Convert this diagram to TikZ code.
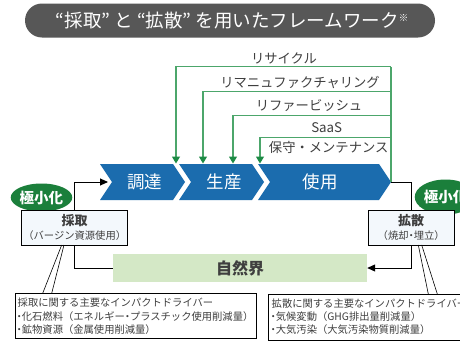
\documentclass[tikz,border=0pt]{standalone}
\usepackage{fontspec}
\setmainfont{Noto Sans CJK JP}
\usetikzlibrary{arrows.meta,shapes.geometric}
\definecolor{titlegray}{HTML}{575757}
\definecolor{chevblue}{HTML}{1B6CAE}
\definecolor{gline}{HTML}{4CA66B}
\definecolor{garrow}{HTML}{1D8B45}
\definecolor{ellgreen}{HTML}{1B7F3B}
\definecolor{boxfill}{HTML}{F3F8FC}
\definecolor{natgreen}{HTML}{D4E8C6}
\definecolor{txtgray}{HTML}{3F3F3F}
\newcommand{\oq}{\makebox[0.7em][r]{“}}
\newcommand{\cq}{\makebox[0.7em][l]{”}}
\newcommand{\nd}{\makebox[0.5em][c]{・}}
\tikzset{
  chev/.style={fill=chevblue, draw=none},
  chevtext/.style={text=white, font=\fontsize{17.5}{19}\selectfont},
  glabel/.style={text=txtgray, font=\fontsize{13.3}{15}\selectfont, inner sep=0pt},
  greenline/.style={draw=gline, line width=1.1pt},
  greenarrow/.style={greenline, -{Triangle[width=8pt,length=7pt,color=garrow]}},
  blackline/.style={draw=black, line width=0.9pt},
  blackarrow/.style={blackline, -{Triangle[width=7pt,length=8pt]}},
  minell/.style={ellipse, fill=ellgreen, text=white, font=\bfseries\fontsize{14.5}{16}\selectfont, inner sep=0pt},
  srcbox/.style={draw=black, line width=0.7pt, fill=boxfill, inner sep=0pt},
  notebox/.style={draw=black, line width=0.7pt, fill=white, inner sep=0pt},
  notetext/.style={anchor=west, text=txtgray, font=\fontsize{10.3}{12}\selectfont, inner sep=0pt},
  callout/.style={draw=black, line width=0.6pt}
}
\begin{document}
\begin{tikzpicture}[x=1pt,y=-1pt]
\useasboundingbox (0,0) rectangle (460,348);
\clip (0,0) rectangle (460,348);
\fill[white] (0,0) rectangle (460,348);

% title
\node[fill=titlegray, rounded corners=17pt, minimum width=410pt, minimum height=34pt,
  text=white, font=\fontsize{18.5}{20}\selectfont, inner sep=0pt] (title) at (230,20.5)
  {\oq 採取\cq と\oq 拡散\cq を用いたフレームワーク\raisebox{0.55ex}{\fontsize{9.5}{10}\selectfont ※}};

% chevrons
\fill[chev] (100,164) -- (173,164) -- (185,182) -- (173,200) -- (100,200) -- (112,182) -- cycle;
\fill[chev] (179,164) -- (252,164) -- (264,182) -- (252,200) -- (179,200) -- (191,182) -- cycle;
\fill[chev] (258,164) -- (379,164) -- (391,182) -- (379,200) -- (258,200) -- (270,182) -- cycle;
\node[chevtext] (procure) at (144.5,182) {調達};
\node[chevtext] (produce) at (224,182) {生産};
\node[chevtext] (use) at (320,182) {使用};

\coordinate (tip3) at (391,182);
\coordinate (notch1) at (108,182);

% green loops
\coordinate (rv1) at (391,66.7);
\coordinate (rv2) at (391,91.7);
\coordinate (rv3) at (391,115.3);
\coordinate (rv4) at (391,137.7);
\coordinate (a1) at (176,163.5);
\coordinate (a2) at (203,163.5);
\coordinate (a3) at (233,163.5);
\coordinate (a4) at (260,163.5);
\draw[greenline] (tip3) -- (rv1);
\draw[greenarrow] (rv1) -| (a1);
\draw[greenarrow] (rv2) -| (a2);
\draw[greenarrow] (rv3) -| (a3);
\draw[greenarrow] (rv4) -| (a4);

\node[glabel] (recycle) at (284,58) {リサイクル};
\node[glabel] (reman) at (300,83) {リマニュファクチャリング};
\node[glabel] (refurb) at (309,106) {リファービッシュ};
\node[glabel] (saas) at (326.7,127.5) {SaaS};
\node[glabel] (maint) at (328.7,147.5) {保守・メンテナンス};

% minimize ellipses
\node[minell, minimum width=57pt, minimum height=28pt] (minL) at (41.5,197.5) {極小化};
\node[minell, minimum width=58pt, minimum height=35pt] (minR) at (445.5,197) {極小化};

% source / sink boxes
\node[srcbox, minimum width=106pt, minimum height=35pt] (extract) at (74.7,227.5) {};
\node[text=txtgray, font=\bfseries\fontsize{13}{14}\selectfont, inner sep=0pt] (extractT) at (74.7,220.5) {採取};
\node[text=txtgray, font=\fontsize{10.3}{12}\selectfont, inner sep=0pt] (extractS) at (74.7,235.5) {（バージン資源使用）};

\node[srcbox, minimum width=85.7pt, minimum height=35pt] (diffuse) at (411.2,227.5) {};
\node[text=txtgray, font=\bfseries\fontsize{13}{14}\selectfont, inner sep=0pt] (diffuseT) at (411.2,220.5) {拡散};
\node[text=txtgray, font=\fontsize{10.3}{12}\selectfont, inner sep=0pt] (diffuseS) at (411.2,235.5) {（焼却\nd 埋立）};

% nature
\node[fill=natgreen, minimum width=254pt, minimum height=28pt, inner sep=0pt,
  text=txtgray, font=\bfseries\fontsize{16}{18}\selectfont] (nature) at (240,268) {自然界};

% black connectors
\draw[blackarrow] (extract.north) |- (notch1);
\draw[blackline] (tip3) -| (diffuse.north);
\draw[blackarrow] (diffuse.south) |- (nature.east);
\draw[blackline] (extract.south) |- (nature.west);

% note boxes
\node[notebox, minimum width=240.3pt, minimum height=45pt] (noteL) at (135.85,315.8) {};
\node[notebox, minimum width=200pt, minimum height=46pt] (noteR) at (368.3,317) {};
\node[notetext] (nL1) at (17.5,303) {採取に関する主要なインパクトドライバー};
\node[notetext] (nL2) at (16.5,316.5) {\nd 化石燃料（エネルギー\nd プラスチック使用削減量）};
\node[notetext] (nL3) at (16.5,329.5) {\nd 鉱物資源（金属使用削減量）};
\node[notetext] (nR1) at (271.5,303.5) {拡散に関する主要なインパクトドライバー};
\node[notetext] (nR2) at (270.5,317) {\nd 気候変動（GHG排出量削減量）};
\node[notetext] (nR3) at (270.5,330) {\nd 大気汚染（大気汚染物質削減量）};

% callout wedges
\coordinate (cL1) at (61.7,245);
\coordinate (cL2) at (64,245);
\coordinate (cR1) at (418.3,245);
\coordinate (cR2) at (421.7,245);
\draw[callout] (cL1) -- (42.7,293.3);
\draw[callout] (cL2) -- (51.7,293.3);
\draw[callout] (cR1) -- (428.3,294);
\draw[callout] (cR2) -- (437.3,294);
\end{tikzpicture}
\end{document}
